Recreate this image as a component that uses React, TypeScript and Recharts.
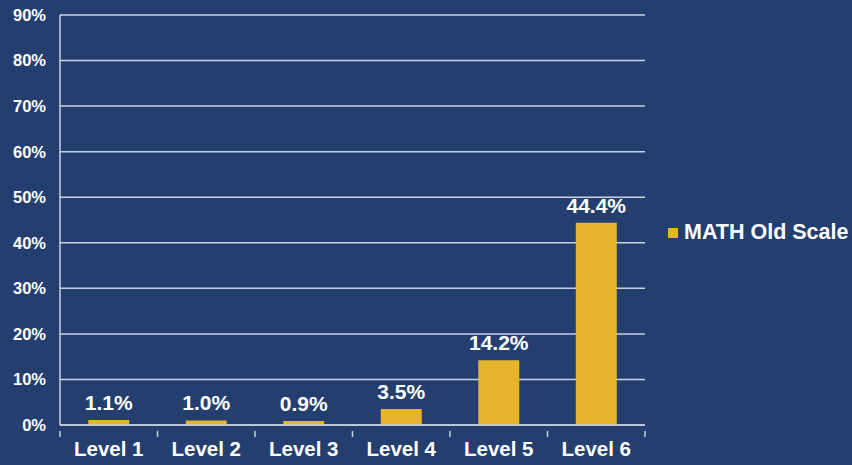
import { Bar, BarChart, CartesianGrid, LabelList, Legend, XAxis, YAxis } from 'recharts';

const levels = ['Level 1', 'Level 2', 'Level 3', 'Level 4', 'Level 5', 'Level 6'];
const mathOldScale = [1.1, 1.0, 0.9, 3.5, 14.2, 44.4];
const yTicks = [0, 10, 20, 30, 40, 50, 60, 70, 80, 90];

const data = levels.map((level, i) => ({ level, value: mathOldScale[i] }));

const COLORS = {
  bg: '#243f6f',
  bar: '#e6b52e',
  grid: '#c9d2e3',
  text: '#ffffff',
};

const FONT = '"Liberation Sans", Arial, sans-serif';

// ticks between categories, like the original axis
function LevelTick(props: any) {
  const { x, y, payload, index } = props;
  const half = 585 / levels.length / 2;
  return (
    <g>
      <line x1={x - half} x2={x - half} y1={y - 2} y2={y + 4} stroke={COLORS.grid} strokeWidth={1.5} />
      {index === levels.length - 1 && (
        <line x1={x + half} x2={x + half} y1={y - 2} y2={y + 4} stroke={COLORS.grid} strokeWidth={1.5} />
      )}
      <text x={x} y={y + 23} textAnchor="middle" fill={COLORS.text} fontSize={20.5} fontWeight="bold" fontFamily={FONT}>
        {payload.value}
      </text>
    </g>
  );
}

function LegendBox() {
  return (
    <div style={{ width: 187, display: 'flex', alignItems: 'center', fontFamily: FONT }}>
      <span style={{ flex: 'none', width: 10, height: 10, background: COLORS.bar, marginLeft: 23, marginRight: 6 }} />
      <span style={{ color: COLORS.text, fontSize: 21.5, fontWeight: 'bold', whiteSpace: 'nowrap' }}>MATH Old Scale</span>
    </div>
  );
}

export default function App() {
  return (
    <div style={{ position: 'fixed', left: 0, top: 0, width: 852, height: 465, background: COLORS.bg }}>
      <BarChart width={852} height={465} data={data} margin={{ top: 15, right: 20, left: 8, bottom: 0 }} barCategoryGap="29%">
        <CartesianGrid vertical={false} stroke={COLORS.grid} strokeWidth={1.5} />
        <XAxis
          dataKey="level"
          height={40}
          stroke={COLORS.grid}
          strokeWidth={1.5}
          tickLine={false}
          tick={<LevelTick />}
          interval={0}
        />
        <YAxis
          width={52}
          domain={[0, 90]}
          ticks={yTicks}
          stroke={COLORS.grid}
          strokeWidth={1.5}
          tickLine={false}
          tickSize={0}
          tickMargin={14}
          tickFormatter={(v: number) => `${v}%`}
          tick={{ fill: COLORS.text, fontSize: 16.5, fontWeight: 'bold', fontFamily: FONT }}
        />
        <Legend layout="vertical" align="right" verticalAlign="middle" content={<LegendBox />} />
        <Bar dataKey="value" name="MATH Old Scale" fill={COLORS.bar} isAnimationActive={false}>
          <LabelList
            dataKey="value"
            position="top"
            offset={10}
            formatter={(v: any) => `${Number(v).toFixed(1)}%`}
            style={{ fill: COLORS.text, fontSize: 21, fontWeight: 'bold', fontFamily: FONT }}
          />
        </Bar>
      </BarChart>
    </div>
  );
}
